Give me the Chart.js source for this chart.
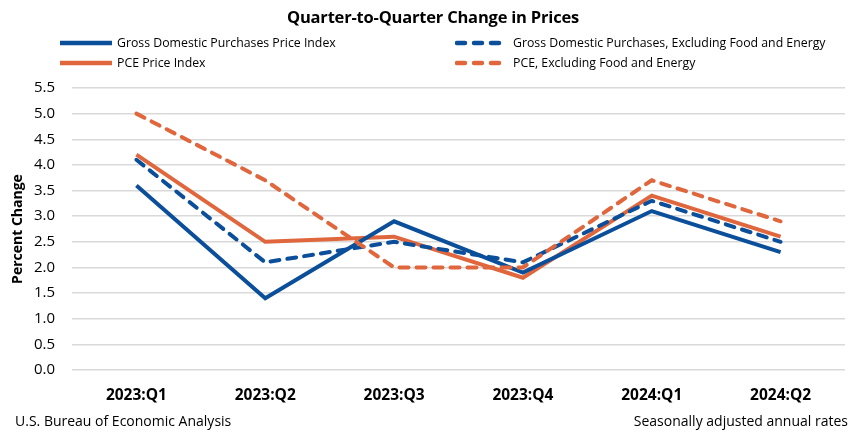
<!DOCTYPE html>
<html>
<head>
<meta charset="utf-8">
<script src="https://cdn.jsdelivr.net/npm/chart.js@4.4.1/dist/chart.umd.min.js"></script>
<style>
  html, body { margin:0; padding:0; background:#fff; }
  body { width:860px; height:440px; position:relative; overflow:hidden;
         font-family: 'Open Sans', sans-serif; color:#000; }
  #wrap { position:absolute; left:0; top:0; width:860px; height:440px; }
  .title { position:absolute; top:5px; left:0; width:866px; text-align:center;
           font-weight:bold; font-size:16.5px; letter-spacing:-0.2px; }
  .leg { position:absolute; font-size:12.3px; white-space:nowrap; }
  .leg svg { position:absolute; left:0; top:50%; margin-top:-3px; }
  .foot { position:absolute; top:411px; font-size:14px; }
</style>
</head>
<body>
<div id="wrap"><canvas id="c" width="860" height="440"></canvas></div>
<div class="title">Quarter-to-Quarter Change in Prices</div>
<div id="legend"></div>
<div class="foot" style="left:15px;">U.S. Bureau of Economic Analysis</div>
<div class="foot" style="right:12px;">Seasonally adjusted annual rates</div>
<script>
const categories = ['2023:Q1','2023:Q2','2023:Q3','2023:Q4','2024:Q1','2024:Q2'];
const gdpPrice = [3.6, 1.4, 2.9, 1.9, 3.1, 2.3];
const gdpCore  = [4.1, 2.1, 2.5, 2.1, 3.3, 2.5];
const pcePrice = [4.2, 2.5, 2.6, 1.8, 3.4, 2.6];
const pceCore  = [5.0, 3.7, 2.0, 2.0, 3.7, 2.9];
const seriesNames = ['Gross Domestic Purchases Price Index',
                     'Gross Domestic Purchases, Excluding Food and Energy',
                     'PCE Price Index',
                     'PCE, Excluding Food and Energy'];

const BLUE = '#0b4f9b';
const ORANGE = '#e0673d';
const FONT = "'Open Sans', sans-serif";

// HTML legend
const legendItems = [
  {name: seriesNames[0], color: BLUE, dash: false, x: 60, y: 34},
  {name: seriesNames[1], color: BLUE, dash: true, x: 455, y: 34},
  {name: seriesNames[2], color: ORANGE, dash: false, x: 60, y: 54},
  {name: seriesNames[3], color: ORANGE, dash: true, x: 455, y: 54}
];
const legEl = document.getElementById('legend');
legendItems.forEach(it => {
  const d = document.createElement('div');
  d.className = 'leg';
  d.style.left = it.x + 'px';
  d.style.top = it.y + 'px';
  d.style.paddingLeft = (it.dash ? 58 : 57) + 'px';
  d.style.height = '18px';
  d.style.lineHeight = '18px';
  const svg = `<svg width="52" height="6"><line x1="${it.dash?2:0}" y1="3" x2="${it.dash?50:52}" y2="3" stroke="${it.color}" stroke-width="4.5" stroke-linecap="${it.dash?'round':'butt'}" ${it.dash?'stroke-dasharray="8 9"':''}/></svg>`;
  d.innerHTML = svg + '<span>' + it.name + '</span>';
  legEl.appendChild(d);
});

const ds = (label, data, color, dashed) => ({
  label, data, borderColor: color, backgroundColor: color,
  borderWidth: 4, pointRadius: 0, tension: 0,
  borderDash: dashed ? [9, 8] : [], borderCapStyle: dashed ? 'round' : 'butt',
  borderJoinStyle: 'miter'
});

new Chart(document.getElementById('c'), {
  type: 'line',
  data: {
    labels: categories,
    datasets: [
      ds(seriesNames[3], pceCore, ORANGE, true),
      ds(seriesNames[1], gdpCore, BLUE, true),
      ds(seriesNames[0], gdpPrice, BLUE, false),
      ds(seriesNames[2], pcePrice, ORANGE, false)
    ]
  },
  options: {
    responsive: false,
    animation: false,
    events: [],
    layout: { padding: { left: 0, right: 15, top: 88, bottom: 30 } },
    plugins: { legend: { display: false }, title: { display: false }, tooltip: { enabled: false } },
    scales: {
      x: {
        offset: true,
        grid: { display: false, drawTicks: false },
        border: { display: false },
        ticks: { color: '#000', font: { family: FONT, size: 15.5, weight: 'bold' }, padding: 16, maxRotation: 0 },
        afterFit: s => { s.height = 40; }
      },
      y: {
        min: 0, max: 5.5,
        grid: { color: '#d9d9d9', lineWidth: 1.5, drawTicks: false },
        border: { display: false },
        ticks: { stepSize: 0.5, color: '#000', padding: 17,
                 font: { family: FONT, size: 15 },
                 callback: v => Number(v).toFixed(1) },
        title: { display: true, text: 'Percent Change', color: '#000',
                 font: { family: FONT, size: 14, weight: 'bold' }, padding: { top: 10, bottom: 0 } },
        afterFit: s => { s.width = 72; }
      }
    }
  }
});
</script>
</body>
</html>
